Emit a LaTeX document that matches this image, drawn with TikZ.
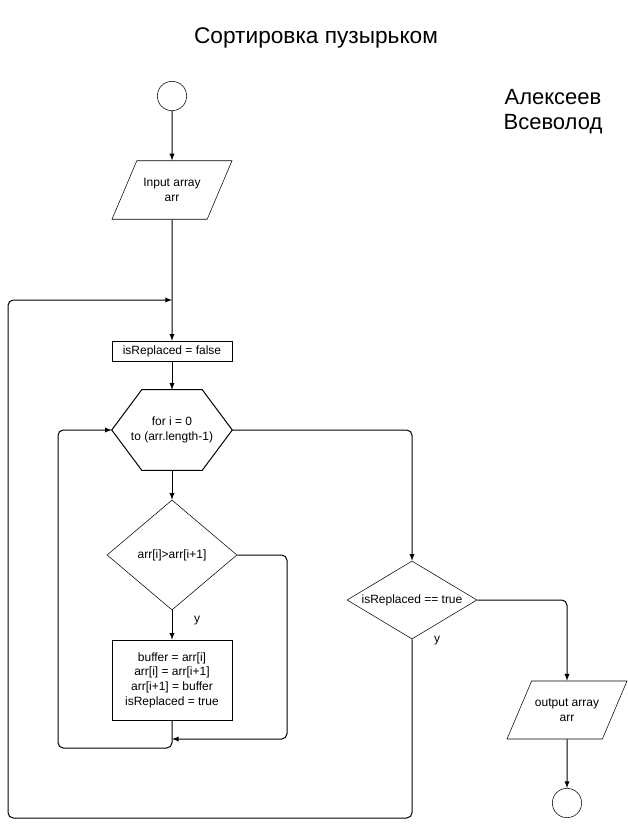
\documentclass[tikz,border=0pt]{standalone}
\usepackage{fontspec}
\setmainfont{Liberation Sans}
\usepackage{tikz}
\usetikzlibrary{shapes.geometric}
\usetikzlibrary{positioning}

\begin{document}
\begin{tikzpicture}[x=0.75pt,y=-0.75pt,every path/.style={>=latex},
		every node/.style={font=\fontsize{9}{11}\selectfont,align=center,inner sep=1pt},
		terminal/.style={draw,circle,minimum size=22pt},
		io/.style={draw,trapezium,trapezium left angle=67,trapezium right angle=113,trapezium stretches body,minimum width=90pt,inner ysep=13.3pt},
		procbox/.style={draw,rectangle,minimum width=90pt},
		loopbox/.style={rectangle,minimum width=90pt,minimum height=60pt},
		cond/.style={draw,diamond,inner sep=0pt,minimum width=97.5pt},
		flow/.style={->,line width=0.75pt,rounded corners=4pt}]
			\useasboundingbox (0,0) rectangle (628,829);
		
			% draw headings
			\node (title) at (316,38) [font=\fontsize{17}{20}\selectfont] {Сортировка пузырьком};
			\node (author) at (553,112) [font=\fontsize{16.5}{18.75}\selectfont] {Алексеев\\Всеволод};
		
			% draw nodes
			\node (start) at (172,96) [terminal] {};
			\node (input) at (172,190) [io] {Input array\\arr};
			\node (init) at (172,351) [procbox,minimum height=15pt] {isReplaced = false};
			\node (loop) at (172,430) [loopbox] {for i = 0\\to (arr.length-1)};
			\draw[line width=0.75pt] (loop.west) -- ([xshift=22.5pt]loop.north west) -- ([xshift=-22.5pt]loop.north east)
				-- (loop.east) -- ([xshift=-22.5pt]loop.south east) -- ([xshift=22.5pt]loop.south west) -- cycle;
			\node (cmp) at (172,555) [cond,aspect=1.18,minimum height=82.5pt] {arr[i]>arr[i+1]};
			\node (swap) at (172,680) [procbox,minimum height=60pt] {buffer = arr[i]\\arr[i] = arr[i+1]\\arr[i+1] = buffer\\isReplaced = true};
			\node (check) at (412,600) [cond,aspect=1.67,minimum height=58.5pt] {isReplaced == true};
			\node (output) at (567,710) [io] {output array\\arr};
			\node (finish) at (567,803) [terminal] {};
			\node (yes1) at (197,621) {y};
			\node (yes2) at (437,641) {y};
			\coordinate (join1) at (172,300);
			\coordinate (join2) at (172,739);
		
			% draw arrows
			\draw[flow] (start) -- (input);
			\draw[flow] (input) -- (init);
			\draw[flow] (init) -- (loop);
			\draw[flow] (loop) -- (cmp);
			\draw[flow] (cmp) -- (swap);
			\draw[flow] (cmp.east) -| (287,739) -- (join2);
			\draw[flow] (swap.south) |- (58,748) |- (loop.west);
			\draw[flow] (loop.east) -| (check.north);
			\draw[flow] (check.east) -| (output.north);
			\draw[flow] (check.south) |- (8,818) |- (join1);
			\draw[flow] (output) -- (finish);
		\end{tikzpicture}
\end{document}
